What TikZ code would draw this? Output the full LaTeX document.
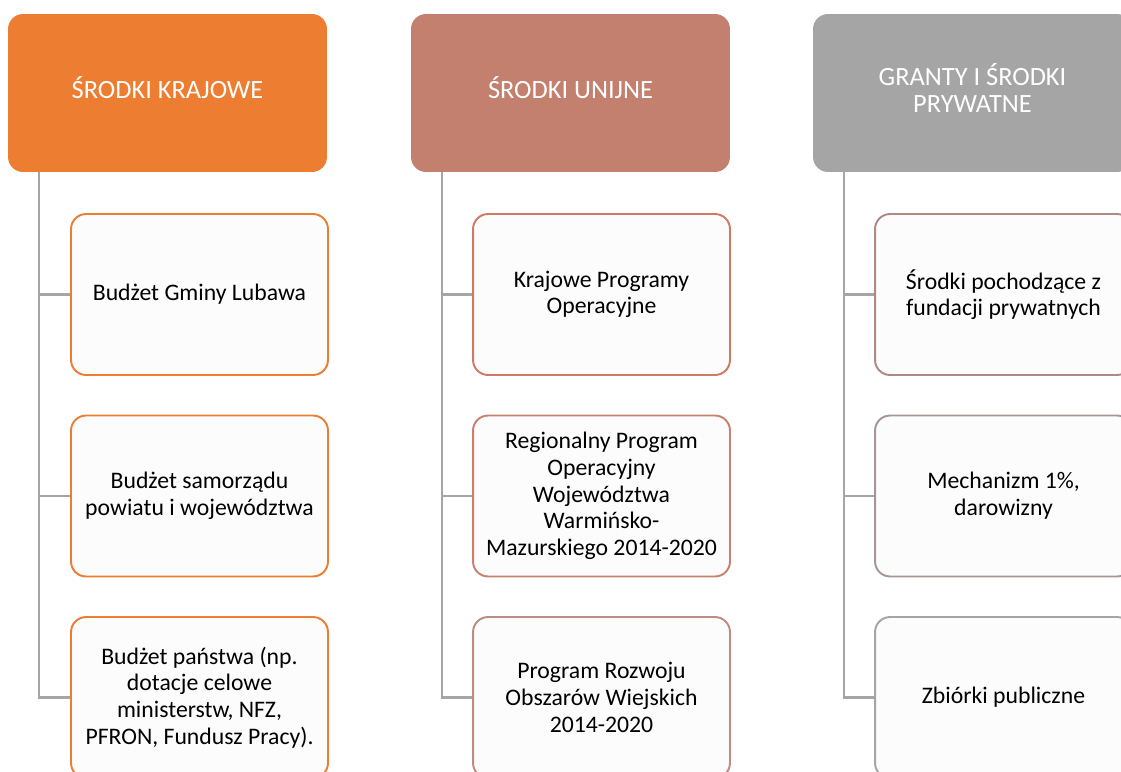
\documentclass[tikz,border=0pt]{standalone}
\usepackage{fontspec}
\setmainfont{Carlito}
\usepackage{tikz}

\definecolor{kraj}{HTML}{ED7D31}
\definecolor{unia}{HTML}{C4806F}
\definecolor{pryw}{HTML}{A5A5A5}
\definecolor{linia}{HTML}{A5A5A5}
\definecolor{tlo}{HTML}{FCFCFC}
\definecolor{ramkaA}{RGB}{208,122,100}
\definecolor{ramkaB}{RGB}{200,128,112}
\definecolor{ramkaC}{RGB}{190,140,130}
\definecolor{ramkaD}{RGB}{176,136,132}
\definecolor{ramkaE}{RGB}{166,150,150}

\begin{document}
\begin{tikzpicture}[x=0.02cm,y=-0.02cm,
		naglowek/.style={fill=#1,rounded corners=0.3cm,minimum width=6.38cm,minimum height=3.16cm,inner sep=0pt,
			text=white,align=center,text depth=6pt,font=\fontsize{15}{15.5}\selectfont},
		pole/.style={draw=#1,fill=tlo,line width=1.1pt,rounded corners=0.3cm,minimum width=5.14cm,minimum height=3.22cm,inner sep=0pt,
			align=center,font=\fontsize{13.5}{15.2}\selectfont},
		galaz/.style={draw=linia,line width=1.3pt}]
			\useasboundingbox (0,0) rectangle (1121,771);
			\clip (0,0) rectangle (1121,771);
			
			% srodki krajowe
			\node[naglowek=kraj] (kraj) at (167.5,93) {ŚRODKI KRAJOWE};
			\node[pole=kraj] (kraj1) at (199.5,294.5) {Budżet Gminy Lubawa};
			\node[pole=kraj] (kraj2) at (199.5,496) {Budżet samorządu\\powiatu i województwa};
			\node[pole=kraj] (kraj3) at (199.5,697.5) {Budżet państwa (np.\\dotacje celowe\\ministerstw, NFZ,\\PFRON, Fundusz Pracy).};
			\draw[galaz] ([xshift=0.62cm]kraj.south west) |- (kraj1.west);
			\draw[galaz] ([xshift=0.62cm]kraj.south west) |- (kraj2.west);
			\draw[galaz] ([xshift=0.62cm]kraj.south west) |- (kraj3.west);
			
			% srodki unijne
			\node[naglowek=unia] (unia) at (570.5,93) {ŚRODKI UNIJNE};
			\node[pole=ramkaA] (unia1) at (601.5,294.5) {Krajowe Programy\\Operacyjne};
			\node[pole=ramkaB] (unia2) at (601.5,496) {Regionalny Program\\Operacyjny\\Województwa\\Warmińsko-\\Mazurskiego 2014-2020};
			\node[pole=ramkaC] (unia3) at (601.5,697.5) {Program Rozwoju\\Obszarów Wiejskich\\2014-2020};
			\draw[galaz] ([xshift=0.62cm]unia.south west) |- (unia1.west);
			\draw[galaz] ([xshift=0.62cm]unia.south west) |- (unia2.west);
			\draw[galaz] ([xshift=0.62cm]unia.south west) |- (unia3.west);
			
			% granty i srodki prywatne
			\node[naglowek=pryw] (pryw) at (972.5,93) {GRANTY I ŚRODKI\\PRYWATNE};
			\node[pole=ramkaD] (pryw1) at (1003.5,294.5) {Środki pochodzące z\\fundacji prywatnych};
			\node[pole=ramkaE] (pryw2) at (1003.5,496) {Mechanizm 1\%,\\darowizny};
			\node[pole=pryw] (pryw3) at (1003.5,697.5) {Zbiórki publiczne};
			\draw[galaz] ([xshift=0.62cm]pryw.south west) |- (pryw1.west);
			\draw[galaz] ([xshift=0.62cm]pryw.south west) |- (pryw2.west);
			\draw[galaz] ([xshift=0.62cm]pryw.south west) |- (pryw3.west);
		\end{tikzpicture}
\end{document}
